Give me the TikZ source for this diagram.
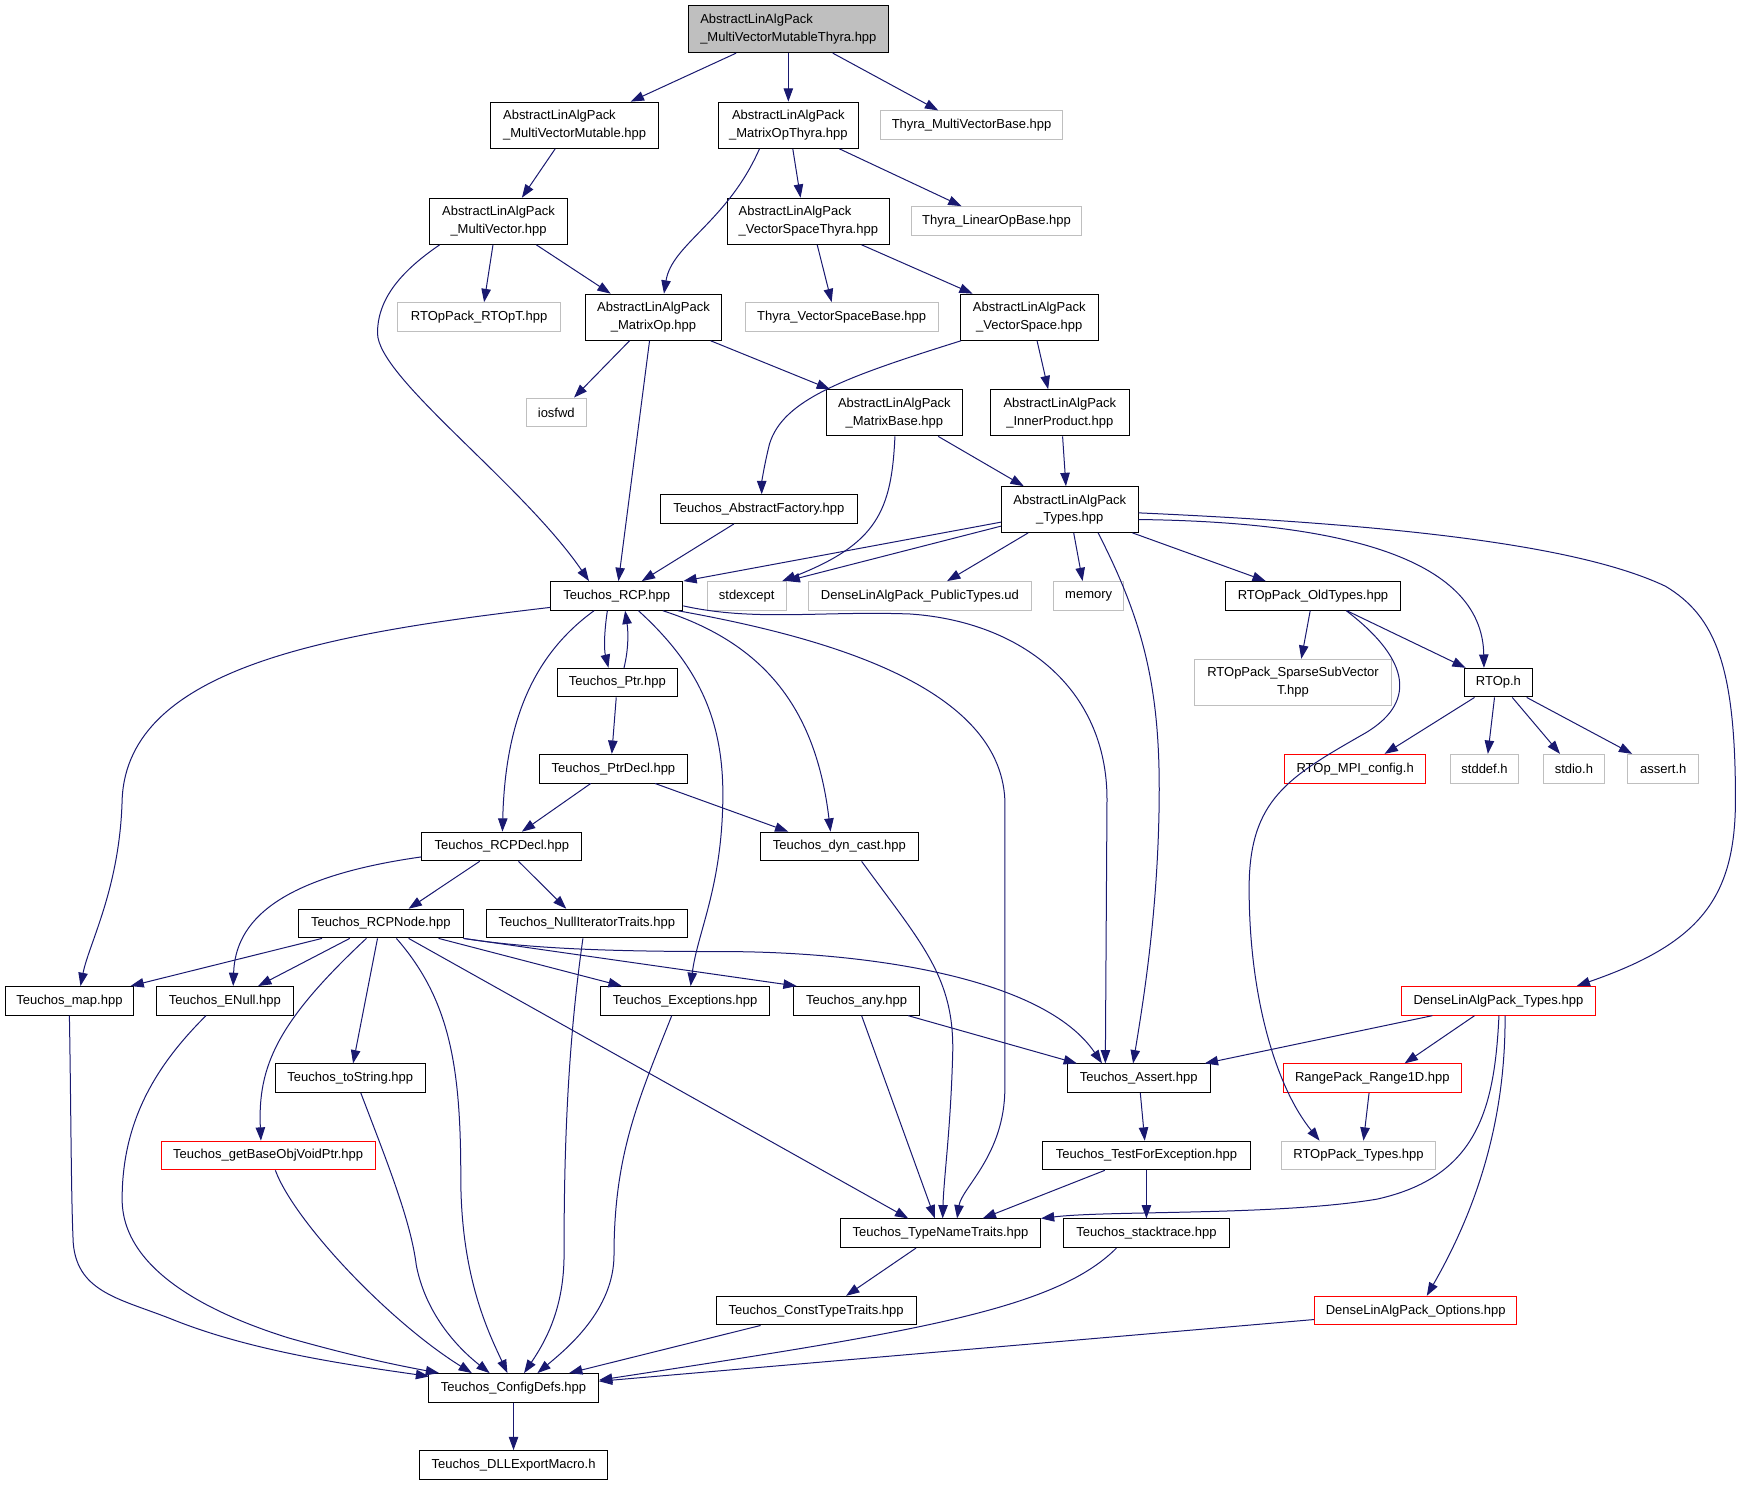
\documentclass[tikz,border=0pt]{standalone}
\usepackage{fontspec}
\setmainfont{Liberation Sans}
\usetikzlibrary{arrows.meta,calc}
\definecolor{edgec}{HTML}{191970}
\definecolor{grayb}{HTML}{BFBFBF}
\definecolor{topfill}{HTML}{BFBFBF}
\definecolor{redb}{HTML}{FF0000}
\tikzset{
  nb/.style={draw=black, line width=0.9pt, inner sep=0pt, minimum height=25.8pt, align=center, font=\fontsize{11.7}{16}\selectfont},
  gb/.style={nb, draw=grayb},
  rb/.style={nb, draw=redb},
  e/.style={draw=edgec, line width=0.9pt, -{Triangle[length=12pt,width=8.5pt]}}
}
\begin{document}
\begin{tikzpicture}[x=1pt,y=-1pt]
\path[use as bounding box, fill=white] (0,0) rectangle (1568,1337);
% nodes
\node[nb, fill=topfill, align=left, minimum width=180, minimum height=42] (top) at (710,26.4) {AbstractLinAlgPack\\\_MultiVectorMutableThyra.hpp};
\node[nb, align=left, minimum width=151, minimum height=41.6] (mvm) at (517.5,112.8) {AbstractLinAlgPack\\\_MultiVectorMutable.hpp};
\node[nb, minimum width=126, minimum height=41.6] (mot) at (710,112.8) {AbstractLinAlgPack\\\_MatrixOpThyra.hpp};
\node[gb, minimum width=164] (tmvb) at (875,112.8) {Thyra\_MultiVectorBase.hpp};
\node[nb, minimum width=124, minimum height=41.5] (mv) at (449,199.3) {AbstractLinAlgPack\\\_MultiVector.hpp};
\node[nb, align=left, minimum width=146, minimum height=41.5] (vst) at (728,199.3) {AbstractLinAlgPack\\\_VectorSpaceThyra.hpp};
\node[gb, minimum width=153] (tlob) at (897.5,199) {Thyra\_LinearOpBase.hpp};
\node[gb, minimum width=147] (rtopt) at (431.5,285.5) {RTOpPack\_RTOpT.hpp};
\node[nb, minimum width=123, minimum height=41.5] (mop) at (588.5,285.7) {AbstractLinAlgPack\\\_MatrixOp.hpp};
\node[gb, minimum width=174] (tvsb) at (758,285.5) {Thyra\_VectorSpaceBase.hpp};
\node[nb, minimum width=124, minimum height=41.5] (vs) at (927,285.7) {AbstractLinAlgPack\\\_VectorSpace.hpp};
\node[gb, minimum width=54] (iosfwd) at (501,371.4) {iosfwd};
\node[nb, minimum width=123, minimum height=41.6] (mb) at (805.5,371.8) {AbstractLinAlgPack\\\_MatrixBase.hpp};
\node[nb, minimum width=125, minimum height=41.6] (ip) at (954.5,371.8) {AbstractLinAlgPack\\\_InnerProduct.hpp};
\node[nb, minimum width=177] (taf) at (683.5,458.5) {Teuchos\_AbstractFactory.hpp};
\node[nb, minimum width=123, minimum height=41.2] (types) at (963.5,458.9) {AbstractLinAlgPack\\\_Types.hpp};
\node[nb, minimum width=119] (rcp) at (555.5,536.7) {Teuchos\_RCP.hpp};
\node[gb, minimum width=71] (stdexcept) at (672.5,536.7) {stdexcept};
\node[gb, minimum width=201] (dlpt) at (828.5,536.7) {DenseLinAlgPack\_PublicTypes.ud};
\node[gb, minimum width=63] (memory) at (980.5,536.7) {memory};
\node[nb, minimum width=157] (oldtypes) at (1182.5,536.7) {RTOpPack\_OldTypes.hpp};
\node[nb, minimum width=108] (ptr) at (556,614.8) {Teuchos\_Ptr.hpp};
\node[gb, minimum width=177, minimum height=41.4] (ssv) at (1164.5,614.5) {RTOpPack\_SparseSubVector\\T.hpp};
\node[nb, minimum width=61] (rtoph) at (1349.5,614.8) {RTOp.h};
\node[nb, minimum width=133] (ptrdecl) at (552.5,692.3) {Teuchos\_PtrDecl.hpp};
\node[rb, minimum width=127] (mpi) at (1220.5,692.3) {RTOp\_MPI\_config.h};
\node[gb, minimum width=62] (stddef) at (1337,692.3) {stddef.h};
\node[gb, minimum width=55] (stdio) at (1417.5,692.3) {stdio.h};
\node[gb, minimum width=64] (assert) at (1498,692.3) {assert.h};
\node[nb, minimum width=144] (rcpdecl) at (452,762.4) {Teuchos\_RCPDecl.hpp};
\node[nb, minimum width=142] (dyncast) at (756,762.4) {Teuchos\_dyn\_cast.hpp};
\node[nb, minimum width=148] (rcpnode) at (343,831.8) {Teuchos\_RCPNode.hpp};
\node[nb, minimum width=181] (nit) at (528.5,831.8) {Teuchos\_NullIteratorTraits.hpp};
\node[nb, minimum width=115] (map) at (62.5,901.4) {Teuchos\_map.hpp};
\node[nb, minimum width=123] (enull) at (202.5,901.4) {Teuchos\_ENull.hpp};
\node[nb, minimum width=152] (exc) at (617,901.4) {Teuchos\_Exceptions.hpp};
\node[nb, minimum width=113] (any) at (771.5,901.4) {Teuchos\_any.hpp};
\node[rb, minimum width=175] (dlt) at (1349.5,901.4) {DenseLinAlgPack\_Types.hpp};
\node[nb, minimum width=135] (tostr) at (315.5,971.1) {Teuchos\_toString.hpp};
\node[nb, minimum width=129] (tassert) at (1025.5,971.1) {Teuchos\_Assert.hpp};
\node[rb, minimum width=160] (range) at (1236,971.1) {RangePack\_Range1D.hpp};
\node[rb, minimum width=193] (gbo) at (241.5,1040.7) {Teuchos\_getBaseObjVoidPtr.hpp};
\node[nb, minimum width=187] (tfe) at (1032.5,1040.7) {Teuchos\_TestForException.hpp};
\node[gb, minimum width=139] (rtoptypes) at (1223.5,1040.7) {RTOpPack\_Types.hpp};
\node[nb, minimum width=180] (tnt) at (847,1110.7) {Teuchos\_TypeNameTraits.hpp};
\node[nb, minimum width=149] (stack) at (1032.5,1110.7) {Teuchos\_stacktrace.hpp};
\node[nb, minimum width=180] (ctt) at (735,1180.4) {Teuchos\_ConstTypeTraits.hpp};
\node[rb, minimum width=182] (opts) at (1275,1180.4) {DenseLinAlgPack\_Options.hpp};
\node[nb, minimum width=153] (cfg) at (462.5,1250) {Teuchos\_ConfigDefs.hpp};
\node[nb, minimum width=169] (dll) at (462.5,1319.4) {Teuchos\_DLLExportMacro.h};
% edges
\draw[e] ([xshift=-47pt]top.south) -- ([xshift=50.5pt]mvm.north);
\draw[e] (top.south) -- (mot.north);
\draw[e] ([xshift=40pt]top.south) -- ([xshift=-30pt]tmvb.north);
\draw[e] ([xshift=-17.5pt]mvm.south) -- ([xshift=21pt]mv.north);
\draw[e] ([xshift=-26pt]mot.south) .. controls (655,200) and (605,220) .. ([xshift=9.5pt]mop.north);
\draw[e] ([xshift=4pt]mot.south) -- ([xshift=-7pt]vst.north);
\draw[e] ([xshift=46pt]mot.south) -- ([xshift=-31.5pt]tlob.north);
\draw[e] ([xshift=-5pt]mv.south) -- ([xshift=4.5pt]rtopt.north);
\draw[e] ([xshift=34pt]mv.south) -- ([xshift=-38.5pt]mop.north);
\draw[e] ([xshift=-53pt]mv.south) .. controls (360,245) and (340,270) .. (340,300) .. controls (340,340) and (470,435) .. ([xshift=-25pt]rcp.north);
\draw[e] ([xshift=8pt]vst.south) -- ([xshift=-9pt]tvsb.north);
\draw[e] ([xshift=48pt]vst.south) -- ([xshift=-51pt]vs.north);
\draw[e] ([xshift=-21.5pt]mop.south) -- ([xshift=16pt]iosfwd.north);
\draw[e] ([xshift=-3.5pt]mop.south) -- ([xshift=1.5pt]rcp.north);
\draw[e] ([xshift=51.5pt]mop.south) -- ([xshift=-58pt]mb.north);
\draw[e] ([xshift=1pt]vs.south west) .. controls (760,340) and (705,360) .. (693,400) .. controls (688,420) and (686,435) .. ([xshift=2.5pt]taf.north);
\draw[e] ([xshift=7pt]vs.south) -- ([xshift=-10.5pt]ip.north);
\draw[e] ([xshift=0.5pt]mb.south) .. controls (803,460) and (790,490) .. ([xshift=-4pt]stdexcept.north east);
\draw[e] ([xshift=39.5pt]mb.south) -- ([xshift=-41.5pt]types.north);
\draw[e] ([xshift=2.5pt]ip.south) -- ([xshift=-3.5pt]types.north);
\draw[e] ([xshift=-22.5pt]taf.south) -- ([xshift=22.5pt]rcp.north);
\draw[e] ($(types.north west)+(0,32.4)$) -- (rcp.north east);
\draw[e] ($(types.north west)+(0,36)$) -- (stdexcept.north east);
\draw[e] ([xshift=-37.5pt]types.south) -- ([xshift=24.5pt]dlpt.north);
\draw[e] ([xshift=3.5pt]types.south) -- ([xshift=-5.5pt]memory.north);
\draw[e] ([xshift=25.5pt]types.south) .. controls (1030,560) and (1045,620) .. (1044,720) .. controls (1043,820) and (1030,900) .. ([xshift=-5pt]tassert.north);
\draw[e] ([xshift=56.5pt]types.south) -- ([xshift=-42.5pt]oldtypes.north);
\draw[e] ($(types.east)+(0,9)$) .. controls (1200,470) and (1335,500) .. ([xshift=-13pt]rtoph.north);
\draw[e] ($(types.east)+(0,3)$) .. controls (1250,472) and (1420,490) .. (1500,528) .. controls (1545,555) and (1563,600) .. (1563,720) .. controls (1563,810) and (1530,850) .. ([xshift=70.5pt]dlt.north);
\draw[e] ($(rcp.south west)+(0,-3)$) .. controls (300,570) and (115,600) .. (110,720) .. controls (108,800) and (80,850) .. ([xshift=10pt]map.north);
\draw[e] ([xshift=-20.5pt]rcp.south) .. controls (480,590) and (455,650) .. ([xshift=0.5pt]rcpdecl.north);
\draw[e] ([xshift=-8.5pt]rcp.south) .. controls (544,570) and (544,585) .. ([xshift=-8pt]ptr.north);
\draw[e] ([xshift=6pt]ptr.north) .. controls (566,585) and (566,570) .. ([xshift=7.5pt]rcp.south);
\draw[e] ([xshift=19.5pt]rcp.south) .. controls (630,600) and (652,650) .. (651,720) .. controls (650,800) and (628,840) .. ([xshift=5pt]exc.north);
\draw[e] ([xshift=41.5pt]rcp.south) .. controls (690,580) and (735,640) .. ([xshift=-8pt]dyncast.north);
\draw[e] ([xshift=-5pt]rcp.south east) .. controls (750,575) and (900,620) .. (905,720) -- (905,980) .. controls (905,1040) and (866,1070) .. ([xshift=15pt]tnt.north);
\draw[e] ($(rcp.east)+(0,9)$) .. controls (680,560) and (740,550) .. (820,553) .. controls (920,560) and (997,620) .. (997,720) -- ([xshift=-30pt]tassert.north);
\draw[e] ([xshift=-1pt]ptr.south) -- ([xshift=-1.5pt]ptrdecl.north);
\draw[e] ([xshift=-20.5pt]ptrdecl.south) -- ([xshift=18pt]rcpdecl.north);
\draw[e] ([xshift=37.5pt]ptrdecl.south) -- ([xshift=-46pt]dyncast.north);
\draw[e] ($(rcpdecl.south west)+(0,-4)$) .. controls (250,790) and (212,830) .. ([xshift=7.5pt]enull.north);
\draw[e] ([xshift=-20pt]rcpdecl.south) -- ([xshift=25pt]rcpnode.north);
\draw[e] ([xshift=15pt]rcpdecl.south) -- ([xshift=-18.5pt]nit.north);
\draw[e] ([xshift=20pt]dyncast.south) .. controls (830,850) and (860,880) .. (858,950) .. controls (856,1020) and (850,1060) .. ([xshift=2pt]tnt.north);
\draw[e] ([xshift=-53pt]rcpnode.south) -- ([xshift=55pt]map.north);
\draw[e] ([xshift=-28pt]rcpnode.south) -- ([xshift=30pt]enull.north);
\draw[e] ([xshift=-3pt]rcpnode.south) -- ([xshift=2.5pt]tostr.north);
\draw[e] ([xshift=-13pt]rcpnode.south) .. controls (250,920) and (232,960) .. ([xshift=-6.5pt]gbo.north);
\draw[e] ([xshift=14pt]rcpnode.south) .. controls (405,900) and (415,960) .. (415,1060) .. controls (415,1150) and (440,1200) .. ([xshift=-5.5pt]cfg.north);
\draw[e] ([xshift=25pt]rcpnode.south) -- ([xshift=-29pt]tnt.north);
\draw[e] ([xshift=52pt]rcpnode.south) -- ([xshift=-57pt]exc.north);
\draw[e] (rcpnode.south east) -- ([xshift=3pt]any.north west);
\draw[e] (rcpnode.south east) .. controls (480,855) and (560,857) .. (650,857) .. controls (780,857) and (940,880) .. ([xshift=-33pt]tassert.north);
\draw[e] ([xshift=-3.5pt]nit.south) .. controls (510,950) and (508,1050) .. (508,1130) .. controls (508,1180) and (490,1210) .. ([xshift=9.5pt]cfg.north);
\draw[e] (map.south) .. controls (64,1000) and (64,1080) .. (66,1120) .. controls (70,1165) and (110,1170) .. (157,1189) .. controls (230,1218) and (320,1230) .. ($(cfg.north west)+(1,3)$);
\draw[e] ([xshift=-17pt]enull.south) .. controls (140,960) and (110,1010) .. (110,1080) .. controls (110,1140) and (180,1180) .. (260,1205) .. controls (320,1222) and (360,1230) .. ([xshift=-67pt]cfg.north);
\draw[e] ([xshift=6.5pt]gbo.south) .. controls (265,1100) and (350,1190) .. ([xshift=-37.5pt]cfg.north);
\draw[e] ([xshift=9.5pt]tostr.south) .. controls (350,1050) and (370,1100) .. (375,1140) .. controls (385,1190) and (420,1220) .. ([xshift=-21.5pt]cfg.north);
\draw[e] ([xshift=-12pt]exc.south) .. controls (575,990) and (553,1040) .. (553,1130) .. controls (553,1180) and (510,1215) .. ([xshift=21.5pt]cfg.north);
\draw[e] ([xshift=4.5pt]any.south) -- ([xshift=-5pt]tnt.north);
\draw[e] ([xshift=46.5pt]any.south) -- ([xshift=-55.5pt]tassert.north);
\draw[e] ([xshift=-59.5pt]dlt.south) -- ([xshift=59.5pt]tassert.north);
\draw[e] ([xshift=-21.5pt]dlt.south) -- ([xshift=29pt]range.north);
\draw[e] ([xshift=0.5pt]dlt.south) .. controls (1346,1000) and (1330,1060) .. (1240,1080) .. controls (1150,1095) and (1000,1090) .. (tnt.north east);
\draw[e] ([xshift=6pt]dlt.south) .. controls (1356,1000) and (1335,1080) .. ([xshift=10pt]opts.north);
\draw[e] ([xshift=-3pt]range.south) -- ([xshift=4.5pt]rtoptypes.north);
\draw[e] ([xshift=-2.5pt]oldtypes.south) -- ([xshift=7.5pt]ssv.north);
\draw[e] ([xshift=30.5pt]oldtypes.south) -- ([xshift=-29.5pt]rtoph.north);
\draw[e] ([xshift=30pt]oldtypes.south) .. controls (1265,590) and (1280,630) .. (1230,660) .. controls (1160,700) and (1125,720) .. (1125,800) .. controls (1125,900) and (1150,980) .. ([xshift=-35pt]rtoptypes.north);
\draw[e] ([xshift=-21.5pt]rtoph.south) -- ([xshift=26.5pt]mpi.north);
\draw[e] ([xshift=-3.5pt]rtoph.south) -- ([xshift=3pt]stddef.north);
\draw[e] ([xshift=12.5pt]rtoph.south) -- ([xshift=-12.5pt]stdio.north);
\draw[e] ([xshift=25.5pt]rtoph.south) -- ([xshift=-28pt]assert.north);
\draw[e] ([xshift=1.5pt]tassert.south) -- ([xshift=-1.5pt]tfe.north);
\draw[e] ([xshift=-37.5pt]tfe.south) -- ([xshift=38pt]tnt.north);
\draw[e] (tfe.south) -- (stack.north);
\draw[e] ([xshift=-22pt]tnt.south) -- ([xshift=27pt]ctt.north);
\draw[e] ([xshift=-50pt]ctt.south) -- ([xshift=50pt]cfg.north);
\draw[e] ([xshift=-27pt]stack.south) .. controls (950,1180) and (820,1200) .. ($(cfg.east)+(0,-7)$);
\draw[e] ($(opts.west)+(0,8)$) -- ($(cfg.east)+(0,-6)$);
\draw[e] (cfg.south) -- (dll.north);
\end{tikzpicture}
\end{document}
